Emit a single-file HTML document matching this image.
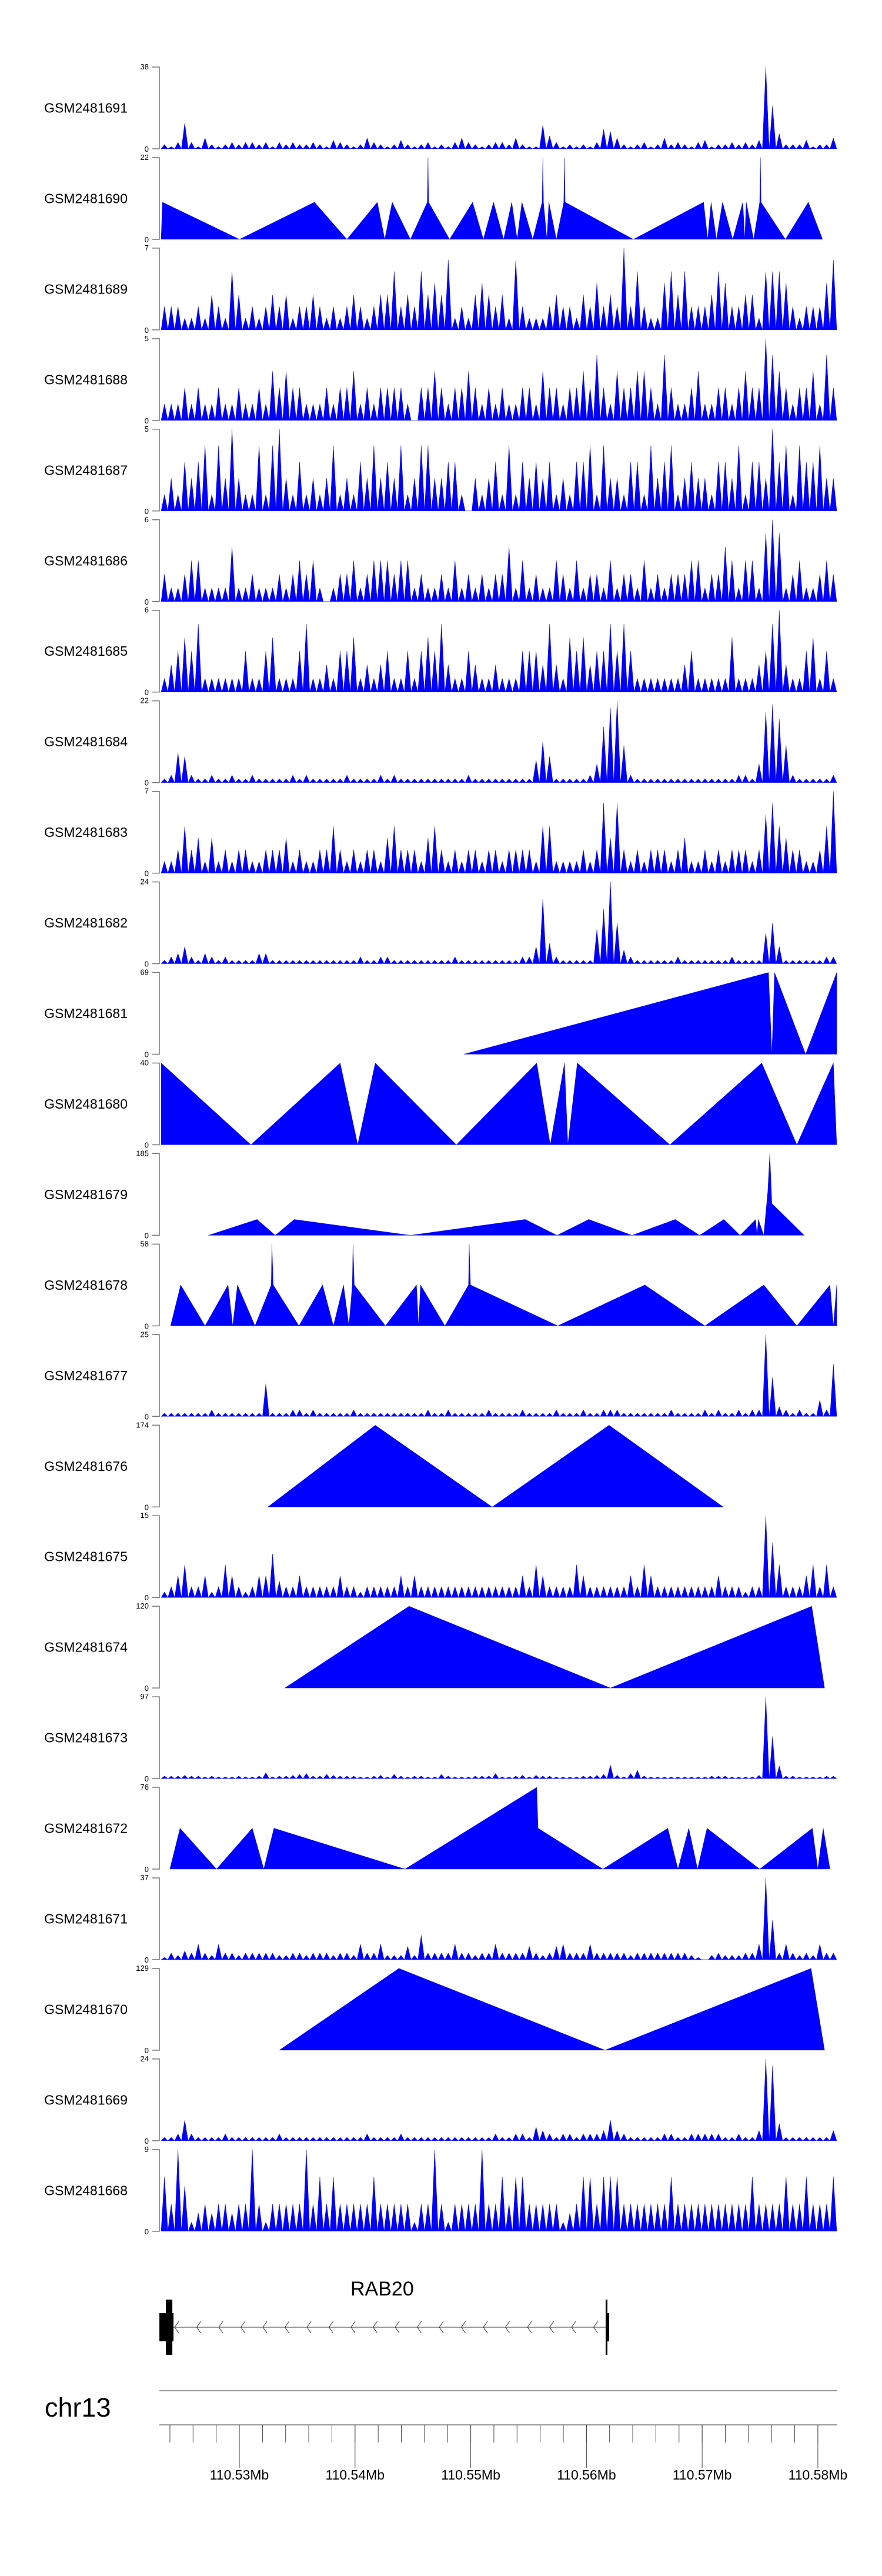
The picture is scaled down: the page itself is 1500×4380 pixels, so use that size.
<!DOCTYPE html>
<html><head><meta charset="utf-8"><style>
html,body{margin:0;padding:0;background:#fff;}
svg{display:block;font-family:"Liberation Sans",sans-serif;}
</style></head><body>
<svg id="chart" width="1500" height="4380" viewBox="0 0 1500 4380" xmlns="http://www.w3.org/2000/svg"></svg>
<script>
const sampleNames=["GSM2481691","GSM2481690","GSM2481689","GSM2481688","GSM2481687","GSM2481686","GSM2481685","GSM2481684","GSM2481683","GSM2481682","GSM2481681","GSM2481680","GSM2481679","GSM2481678","GSM2481677","GSM2481676","GSM2481675","GSM2481674","GSM2481673","GSM2481672","GSM2481671","GSM2481670","GSM2481669","GSM2481668"];
const yMax=[38,22,7,5,5,6,6,22,7,24,69,40,185,58,25,174,15,120,97,76,37,129,24,9];
// binned coverage (100 bins across the region)
const t1=[2,1,3,12,3,1,5,2,1,2,3,2,3,3,2,3,1,3,2,3,2,2,3,2,1,4,3,2,1,2,5,3,2,1,2,4,2,1,2,3,1,2,1,3,5,3,2,1,2,3,3,2,5,2,1,1,11,6,3,1,2,1,2,1,3,9,8,5,2,1,2,3,1,2,5,2,3,2,1,3,4,1,2,2,3,2,3,2,4,38,20,7,2,2,2,4,1,2,2,5];
const t3=[2,2,2,1,1,2,1,3,2,1,5,3,1,2,1,2,3,2,3,1,2,2,3,2,1,2,1,2,3,2,1,2,3,3,5,2,3,2,5,3,4,3,6,1,2,1,3,4,3,2,3,1,6,2,1,1,1,2,3,2,2,1,3,2,4,2,3,2,7,2,5,2,1,1,4,5,3,5,2,2,2,3,5,4,2,2,3,3,1,5,5,5,4,2,1,2,2,2,4,6];
const t4=[1,1,1,2,1,2,1,1,2,1,1,2,1,1,2,1,3,2,3,2,2,1,1,1,2,1,2,2,3,1,2,1,2,2,2,2,1,0,2,2,3,2,1,2,2,3,2,1,2,1,2,1,1,2,2,1,3,2,2,1,2,2,3,2,4,2,1,3,2,2,3,3,2,1,4,2,1,1,2,3,1,1,2,2,1,2,3,2,2,5,4,3,2,1,2,2,3,1,4,2];
const t5=[1,2,1,3,2,3,4,1,4,2,5,2,1,1,4,1,4,5,2,1,3,1,2,1,2,4,1,2,1,3,2,4,2,3,2,4,1,2,4,4,2,2,3,3,1,0,2,1,2,3,1,4,1,3,2,3,2,3,1,2,1,3,3,4,1,4,2,2,1,3,3,1,4,2,3,4,1,2,3,2,2,1,3,3,2,4,1,3,3,2,5,3,4,1,4,3,3,4,2,2];
const t6=[2,1,1,2,3,3,1,1,1,1,4,1,1,2,1,1,1,2,1,2,3,2,3,1,0,1,2,2,3,1,2,3,3,3,2,3,3,1,2,1,1,2,1,3,1,2,1,2,1,2,2,4,1,3,1,2,1,1,3,2,1,3,1,2,2,1,3,1,2,2,1,3,1,2,1,2,2,2,3,3,1,2,2,4,3,1,3,3,1,5,6,5,1,2,3,1,1,2,3,2];
const t7=[1,2,3,4,3,5,1,1,1,1,1,1,3,1,1,3,4,1,1,1,3,5,1,1,2,1,3,3,4,1,2,1,2,3,1,1,3,1,3,4,3,5,2,1,1,3,2,1,1,2,1,1,1,3,3,3,2,5,2,1,4,3,4,2,3,3,5,3,5,3,1,1,1,1,1,1,1,2,3,1,1,1,1,1,4,1,1,1,2,3,5,6,2,1,1,3,4,1,3,1];
const t8=[1,2,8,7,2,1,1,2,1,1,2,1,1,2,1,1,1,1,1,2,1,2,1,1,1,1,1,2,1,1,1,1,2,1,2,1,1,1,1,1,1,1,1,1,1,2,1,1,1,1,1,1,1,1,1,6,11,7,1,1,1,1,1,2,5,15,20,22,10,2,1,1,1,1,1,1,1,1,1,1,1,1,1,1,1,2,2,1,5,19,21,17,10,2,1,1,1,1,1,2];
const t9=[1,1,2,4,2,3,1,3,1,2,1,2,2,1,1,2,2,2,3,1,2,1,1,2,2,4,2,1,2,1,2,2,1,3,4,2,2,2,1,3,4,2,1,2,1,2,2,1,2,2,1,2,2,2,2,1,4,4,1,1,1,1,2,1,2,6,3,6,2,1,2,1,2,2,2,1,2,3,1,1,2,1,2,1,2,2,2,1,2,5,6,4,3,2,2,1,1,2,4,7];
const t10=[1,2,3,5,2,1,3,2,1,2,1,1,1,1,3,3,1,1,1,1,1,1,1,1,1,1,1,1,1,2,1,1,2,2,1,1,1,1,1,1,1,1,1,2,1,1,1,1,1,1,1,1,1,2,2,5,19,6,2,1,1,1,1,1,10,16,24,12,4,2,1,1,1,1,1,1,2,1,1,1,1,1,1,1,2,1,1,1,1,9,12,5,1,1,1,1,1,1,2,2];
const t15=[1,1,1,1,1,1,1,2,1,1,1,1,1,1,1,10,1,1,1,2,2,1,2,1,1,1,1,1,2,1,1,1,1,1,1,1,1,1,1,2,1,1,2,1,1,1,1,1,2,1,1,1,1,2,1,1,1,1,2,1,1,1,2,1,1,2,2,2,1,1,1,1,1,1,1,2,1,1,1,1,2,1,2,1,1,2,1,2,2,25,12,3,2,1,2,1,1,5,2,16];
const t17=[1,2,4,6,2,2,4,1,2,6,4,2,1,2,4,4,8,3,2,2,4,2,2,2,2,2,4,2,2,1,2,2,2,2,2,4,2,4,2,2,2,2,2,2,2,2,2,2,2,2,2,2,2,4,2,6,4,2,2,2,2,6,4,2,2,2,2,2,2,4,2,6,4,2,2,2,2,2,2,2,2,2,4,2,2,2,1,2,2,15,10,6,2,2,2,4,6,2,6,2];
const t19=[3,3,3,4,3,3,2,3,2,2,2,3,2,2,3,7,2,3,3,4,5,6,3,3,5,4,3,3,3,2,2,3,4,2,5,3,2,3,3,2,2,5,3,2,2,2,3,3,3,6,2,2,3,4,2,4,3,3,2,2,2,2,3,3,4,5,16,4,2,6,10,3,2,2,2,2,2,2,2,2,2,3,3,3,2,2,2,2,4,97,50,15,3,3,2,2,2,2,3,3];
const t21=[1,3,2,4,3,7,3,2,7,3,3,2,3,3,3,3,3,2,2,3,3,2,3,3,3,2,3,3,2,7,3,3,7,2,2,2,6,2,11,3,3,3,3,7,3,3,2,3,3,7,3,3,3,3,6,3,2,3,6,7,3,3,3,7,3,3,3,3,3,2,3,3,3,3,3,3,3,3,2,1,0,2,3,2,2,2,3,3,7,37,18,3,7,3,2,3,2,7,3,3];
const t23=[1,1,2,6,2,1,1,1,1,2,1,1,1,1,1,1,1,2,1,1,1,1,1,1,1,1,1,1,1,1,2,1,1,1,1,2,1,1,1,1,1,1,1,1,1,1,1,1,1,2,1,1,2,2,1,4,3,2,1,2,2,1,2,2,2,3,6,3,2,1,1,1,1,1,2,2,1,1,2,2,2,2,2,1,1,2,1,1,3,24,22,5,1,1,1,1,1,1,1,3];
const t24=[6,3,9,5,1,2,3,2,3,3,2,3,3,9,3,1,3,3,3,3,3,9,3,6,3,6,3,3,3,3,3,6,3,3,3,3,3,1,3,3,9,3,1,3,3,3,3,9,3,3,6,3,6,6,3,3,3,3,3,1,2,3,6,6,3,6,6,6,3,3,3,3,3,3,3,6,3,3,3,3,3,3,3,3,3,3,3,6,3,3,3,3,6,3,3,6,3,3,3,6];
// piecewise-linear tracks: position (% of region) and value
const t2x=[0,0.2,11.6,22.7,27.5,32,33.1,34.2,36.9,39.4,39.5,39.6,42.7,46.1,47.7,49.2,50.7,51.9,52.7,53.4,55,56.4,56.5,56.6,57.1,57.4,58.5,59.6,59.7,59.8,69.9,80.3,80.9,81.4,82.2,83.1,84.6,86.1,86.4,86.6,87.7,88.6,88.7,88.8,92.4,95.8,97.9];
const t2y=[0,10,0,10,0,10,0,10,0,10,22,10,0,10,0,10,0,10,0,10,0,10,22,10,0,10,0,10,22,10,0,10,0,10,0,10,0,10,0,10,0,10,22,10,0,10,0];
const t11x=[44.8,89.9,90.4,90.8,95.4,100];
const t11y=[0,69,0,69,0,69];
const t12x=[0,13.3,26.5,29.1,31.7,43.7,55.6,57.6,59.7,60.2,61.6,75.3,88.9,94.1,99.5,100];
const t12y=[40,0,40,0,40,0,40,0,40,0,40,0,40,0,40,0];
const t13x=[7,14.2,16.9,19.7,36.9,53.9,58.6,63.3,69.7,76.1,79.7,83.3,85.7,88,88.2,88.4,89.2,89.8,90.1,90.4,95.2];
const t13y=[0,36,0,36,0,36,0,36,0,36,0,36,0,36,0,36,0,100,185,72,0];
const t14x=[1.4,2.9,6.5,9.9,10.6,11.3,13.9,16.3,16.4,16.6,20.4,23.9,25.5,27,27.8,28.3,28.4,28.6,33.2,37.8,38.1,38.4,42,45.5,45.6,45.8,58.7,71.6,80.5,89.2,94.1,99,99.5,100];
const t14y=[0,29,0,29,0,29,0,29,58,29,0,29,0,29,0,29,58,29,0,29,0,29,0,29,58,29,0,29,0,29,0,29,0,29];
const t16x=[15.8,31.7,49,66.3,83.2];
const t16y=[0,174,0,174,0];
const t18x=[18.3,36.7,66.5,96.3,98.2];
const t18y=[0,120,0,120,0];
const t20x=[1.3,2.8,8.2,13.5,15.2,16.7,36.1,55.6,55.8,65.4,75,76.5,78.1,79.4,80.8,88.6,96.4,97.2,98,99];
const t20y=[0,38,0,38,0,38,0,76,38,0,38,0,38,0,38,0,38,0,38,0];
const t22x=[17.5,35.2,65.7,96.2,98.2];
const t22y=[0,129,0,129,0];
const binned={0:t1,2:t3,3:t4,4:t5,5:t6,6:t7,7:t8,8:t9,9:t10,14:t15,16:t17,18:t19,20:t21,22:t23,23:t24};
const lineX={1:t2x,10:t11x,11:t12x,12:t13x,13:t14x,15:t16x,17:t18x,19:t20x,21:t22x};
const lineY={1:t2y,10:t11y,11:t12y,12:t13y,13:t14y,15:t16y,17:t18y,19:t20y,21:t22y};
// genomic axis
const axisStart=110.52324, axisEnd=110.58163;
const majorTicks=[110.53,110.54,110.55,110.56,110.57,110.58];
const majorLabels=["110.53Mb","110.54Mb","110.55Mb","110.56Mb","110.57Mb","110.58Mb"];
const geneName="RAB20";
const geneStart=110.52421, geneEnd=110.56171;

const NS="http://www.w3.org/2000/svg";
const svg=document.getElementById('chart');
const X0=274,X1=1423,TOP0=114,PITCH=153.95,TH=139;
function px(p){return X0+p/100*(X1-X0);}
function gx(mb){return X0+(mb-axisStart)/(axisEnd-axisStart)*(X1-X0);}
function el(tag,attrs,parent){const e=document.createElementNS(NS,tag);for(const k in attrs)e.setAttribute(k,attrs[k]);(parent||svg).appendChild(e);return e;}

for(let i=0;i<sampleNames.length;i++){
  const top=TOP0+PITCH*i, base=top+TH, m=yMax[i];
  const vy=v=>base-v/m*TH;
  const g=el('g',{});
  
  
  const lab=el('text',{x:217,y:top+TH/2+8,'text-anchor':'end','font-size':23,fill:'#000'},g);
  lab.textContent=sampleNames[i];
  
  
  const ax=el('path',{d:`M259 ${top}H271V${base}H259`,stroke:'#777',fill:'none','stroke-width':1.5},g);
  
  
  const tmax=el('text',{x:253,y:top+4,'text-anchor':'end','font-size':13,fill:'#000'},g);
  tmax.textContent=String(m);
  
  
  const tmin=el('text',{x:253,y:base+5,'text-anchor':'end','font-size':13,fill:'#000'},g);
  tmin.textContent='0';
  
  
  let pts=[];
  if(binned[i]){
    const a=binned[i];const n=a.length;
    pts.push([px(0),base]);
    for(let k=0;k<n;k++){pts.push([px((k+0.5)*100/n),vy(a[k])]);pts.push([px((k+1)*100/n),base]);}
  } else {
    const xs=lineX[i], ys=lineY[i];
    pts.push([px(xs[0]),base]);
    for(let k=0;k<xs.length;k++)pts.push([px(xs[k]),vy(ys[k])]);
    pts.push([px(xs[xs.length-1]),base]);
  }
  const area=el('polygon',{points:pts.map(p=>p[0].toFixed(1)+','+p[1].toFixed(1)).join(' '),fill:'#0000ff',stroke:'#0000cc','stroke-width':0.4},g);
  
  
}

// gene model
const gg=el('g',{});


const gs=gx(geneStart), ge=gx(geneEnd);
const gline=el('line',{x1:gs,y1:3957,x2:ge,y2:3957,stroke:'#333','stroke-width':1},gg);


for(let x=gs+4;x<ge-8;x+=37.5){
  const ch=el('path',{d:`M${x+7} 3947L${x} 3957L${x+7} 3967`,stroke:'#333',fill:'none','stroke-width':1},gg);
  
  
}
const ex1=el('rect',{x:gs-22,y:3933,width:24,height:48,fill:'#000'},gg);


const ex2=el('rect',{x:gs-11,y:3910,width:11,height:94,fill:'#000'},gg);


const ex3=el('rect',{x:ge-1,y:3910,width:3,height:94,fill:'#000'},gg);


const ex4=el('rect',{x:ge,y:3933,width:5,height:48,fill:'#000'},gg);


const gt=el('text',{x:596,y:3903,'font-size':34,fill:'#000'},gg);
gt.textContent=geneName;



// genome axis
const ag=el('g',{});


const l1=el('line',{x1:271,y1:4065,x2:1424,y2:4065,stroke:'#999','stroke-width':2},ag);


const l2=el('line',{x1:271,y1:4123,x2:1424,y2:4123,stroke:'#999','stroke-width':2},ag);


const chr=el('text',{x:76,y:4109,'font-size':45,fill:'#000'},ag);
chr.textContent='chr13';


for(let k=0;;k++){
  const mb=110.524+k*0.002; if(mb>axisEnd)break;
  const x=gx(mb);
  const t=el('line',{x1:x,y1:4123,x2:x,y2:4153,stroke:'#444','stroke-width':1},ag);
  
  
}
majorTicks.forEach((mb,j)=>{
  const x=gx(mb);
  const t=el('line',{x1:x,y1:4123,x2:x,y2:4196,stroke:'#444','stroke-width':1},ag);
  
  
  const tx=el('text',{x:x,y:4216,'text-anchor':'middle','font-size':23,fill:'#000'},ag);
  tx.textContent=majorLabels[j];
  
  
});
</script>
</body></html>
